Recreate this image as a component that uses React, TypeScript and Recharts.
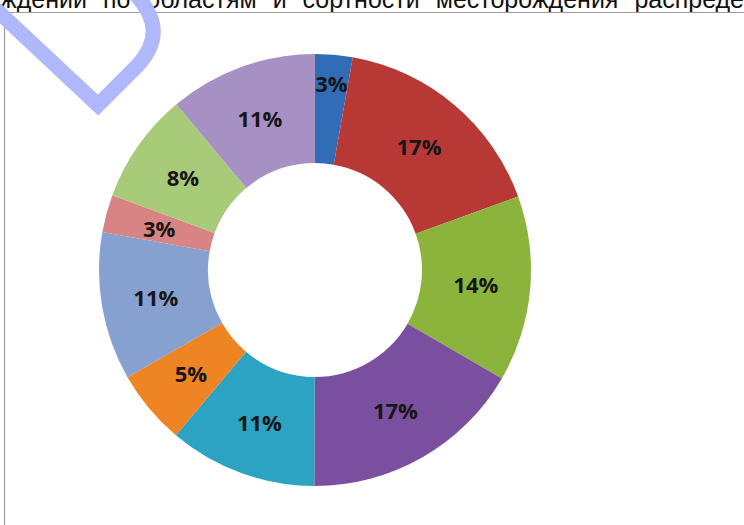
import { Cell, Pie, PieChart } from 'recharts'

// shares; labels are what the chart prints
const shares = [2.8, 16.7, 13.9, 16.7, 11.1, 5.6, 11.1, 2.8, 8.3, 11.1]
const labels = ['3%', '17%', '14%', '17%', '11%', '5%', '11%', '3%', '8%', '11%']
const COLORS = [
  '#306db6',
  '#b83836',
  '#8cb43c',
  '#7b4f9f',
  '#2ca3c2',
  '#ef8424',
  '#86a1d0',
  '#d98484',
  '#a8cb7a',
  '#a690c4',
]
const headerText = 'ждений по областям и сортности месторождения распреде'

const data = shares.map((value, i) => ({ name: labels[i], value }))

const RAD = Math.PI / 180

function renderLabel(props: any) {
  const { cx, cy, midAngle, innerRadius, outerRadius, index } = props
  // the thin top slice has its label pushed out towards the rim
  const r = index === 0 ? outerRadius - 28 : (innerRadius + outerRadius) / 2
  const x = cx + r * Math.cos(-midAngle * RAD)
  const y = cy + r * Math.sin(-midAngle * RAD)
  return (
    <text
      x={x}
      y={y}
      textAnchor="middle"
      dominantBaseline="central"
      fill="#161616"
      fontFamily="'Open Sans', sans-serif"
      fontWeight={700}
      fontSize={22}
    >
      {labels[index]}
    </text>
  )
}

export default function App() {
  return (
    <div
      style={{
        position: 'absolute',
        left: 0,
        top: 0,
        width: 744,
        height: 525,
        overflow: 'hidden',
        background: '#fff',
      }}
    >
      <div
        style={{
          position: 'absolute',
          left: 0,
          top: -14,
          width: 744,
          fontFamily: "'Liberation Sans', Arial, sans-serif",
          fontSize: 25,
          lineHeight: '26px',
          color: '#111',
          textAlign: 'justify',
          textAlignLast: 'justify',
          whiteSpace: 'nowrap',
        }}
      >
        {headerText}
      </div>
      <div style={{ position: 'absolute', left: 0, top: 0 }}>
        <PieChart width={744} height={525} margin={{ top: 0, right: 0, bottom: 0, left: 0 }}>
          <Pie
            data={data}
            dataKey="value"
            cx={315}
            cy={270}
            innerRadius={107}
            outerRadius={216}
            startAngle={90}
            endAngle={-270}
            stroke="none"
            labelLine={false}
            label={renderLabel}
            isAnimationActive={false}
          >
            {data.map((entry, index) => (
              <Cell key={`${entry.name}-${index}`} fill={COLORS[index % COLORS.length]} />
            ))}
          </Pie>
        </PieChart>
      </div>
      <svg
        width={744}
        height={525}
        style={{ position: 'absolute', left: 0, top: 0, pointerEvents: 'none' }}
      >
        <path d="M 4.5 525 L 4.5 12.5 L 744 12.5" fill="none" stroke="#9c9c9c" strokeWidth={1.2} />
        {/* watermark letter, mostly cut off above the page */}
        <path
          d="M -12 2 L 98 105 L 139 64 Q 160 40 150 16 Q 142 -2 124 -16"
          fill="none"
          stroke="#b0b8fc"
          strokeWidth={15}
          strokeLinejoin="miter"
        />
      </svg>
    </div>
  )
}
